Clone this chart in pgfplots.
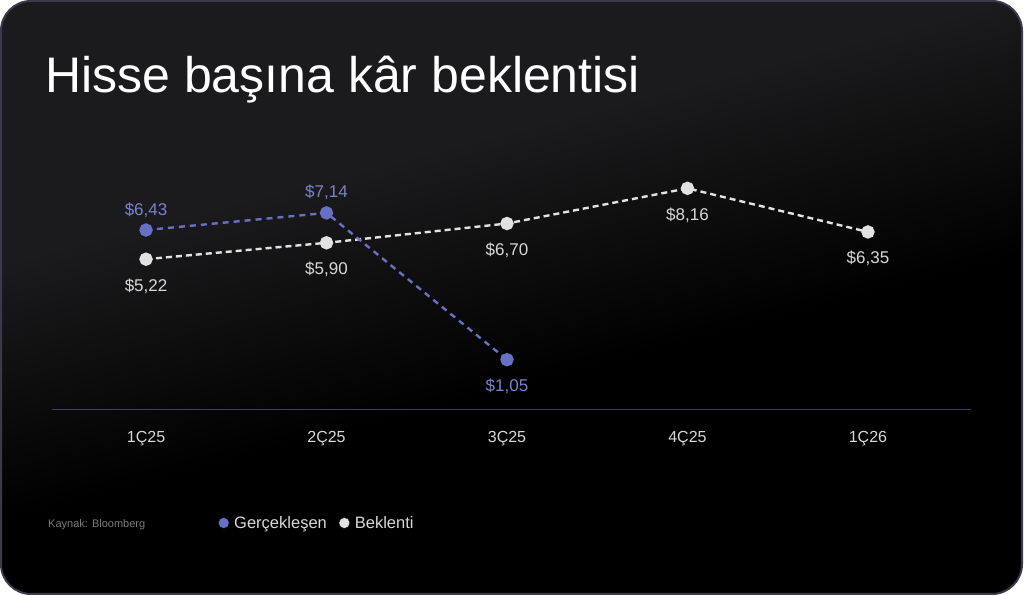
\documentclass[border=0pt]{standalone}
\usepackage{fontspec}
\setmainfont{Liberation Sans}
\usepackage{pgfplots}
\pgfplotsset{compat=1.18}

\definecolor{bgtop}{HTML}{1B1B1D}
\definecolor{cardedge}{HTML}{3A3A48}
\definecolor{axisline}{HTML}{40405E}
\definecolor{gblue}{HTML}{6870C4}
\definecolor{gbluetext}{HTML}{7A82CC}
\definecolor{wdot}{HTML}{E2E2E2}
\definecolor{wtext}{HTML}{D8D8D8}
\definecolor{srcgray}{HTML}{7C7C7C}

\pgfdeclareverticalshading{cardbg}{100bp}{color(0bp)=(black); color(46bp)=(black); color(55bp)=(bgtop); color(100bp)=(bgtop)}

\newcommand{\lblfont}{\fontsize{17}{20}\selectfont}

\begin{document}
\begin{tikzpicture}
\fill[white] (0pt,0pt) rectangle (1024pt,596pt);
\begin{scope}
\clip[rounded corners=30pt] (1pt,2pt) rectangle (1022pt,595pt);
\shade[shading=cardbg, shading angle=14.6] (-188pt,-377pt) rectangle (1212pt,1023pt);
\end{scope}
\draw[cardedge, line width=2pt, rounded corners=30pt] (1pt,2pt) rectangle (1022pt,595pt);

\node[anchor=base west, inner sep=0pt, text=white, font=\fontsize{50}{58}\selectfont] at (45pt,503pt) {Hisse başına kâr beklentisi};
\node[anchor=base west, inner sep=0pt, text=srcgray, font=\fontsize{11}{13}\selectfont] at (48pt,68pt) {Kaynak: Bloomberg};

\begin{axis}[
    at={(52pt,186pt)}, anchor=south west,
    scale only axis, width=919pt, height=260pt,
    xmin=-0.521, xmax=4.571, ymin=-1.037, ymax=9.751,
    axis x line=bottom, axis y line=none,
    x axis line style={-, draw=axisline, line width=1pt},
    xtick={0,1,2,3,4},
    xticklabels={1Ç25,2Ç25,3Ç25,4Ç25,1Ç26},
    ytick=\empty,
    major tick length=0pt,
    xticklabel style={anchor=base, yshift=-33pt, text=wtext, font=\fontsize{16}{19}\selectfont},
    clip=false,
    point meta=explicit symbolic,
    legend columns=2,
    legend style={at={(0.1774,-0.4346)}, anchor=west, draw=none, fill=none,
        text=wtext, font=\fontsize{16.5}{19}\selectfont,
        /tikz/every odd column/.append style={column sep=3pt},
        /tikz/every even column/.append style={column sep=10pt}},
    legend image code/.code={\draw[#1] plot coordinates {(0pt,0pt)};},
]
% Beklenti
\addplot[forget plot, draw=wdot, line width=2.4pt, dash pattern=on 6pt off 4pt,
    mark=*, mark size=5.5pt, mark options={solid, fill=wdot, draw=none},
    nodes near coords,
    every node near coord/.append style={anchor=base, yshift=-32pt, inner sep=0pt, text=wtext, font=\lblfont}]
coordinates {(0,5.22)[\$5,22] (1,5.90)[\$5,90] (2,6.70)[\$6,70] (3,8.16)[\$8,16] (4,6.35)[\$6,35]};
% Gerçekleşen
\addplot[forget plot, draw=gblue, line width=2.4pt, dash pattern=on 6pt off 5pt,
    mark=*, mark size=5.5pt, mark options={solid, fill=gblue, draw=none}]
coordinates {(0,6.43) (1,7.14) (2,1.05)};
\addplot[forget plot, draw=none, mark=none, nodes near coords,
    every node near coord/.append style={anchor=base, yshift=15pt, inner sep=0pt, text=gbluetext, font=\lblfont}]
coordinates {(0,6.43)[\$6,43] (1,7.14)[\$7,14]};
\addplot[forget plot, draw=none, mark=none, nodes near coords,
    every node near coord/.append style={anchor=base, yshift=-32pt, inner sep=0pt, text=gbluetext, font=\lblfont}]
coordinates {(2,1.05)[\$1,05]};

\addlegendimage{only marks, mark=*, mark size=5.5pt, mark options={fill=gblue, draw=none}}
\addlegendentry{Gerçekleşen}
\addlegendimage{only marks, mark=*, mark size=5.5pt, mark options={fill=wdot, draw=none}}
\addlegendentry{Beklenti}
\end{axis}
\end{tikzpicture}
\end{document}
